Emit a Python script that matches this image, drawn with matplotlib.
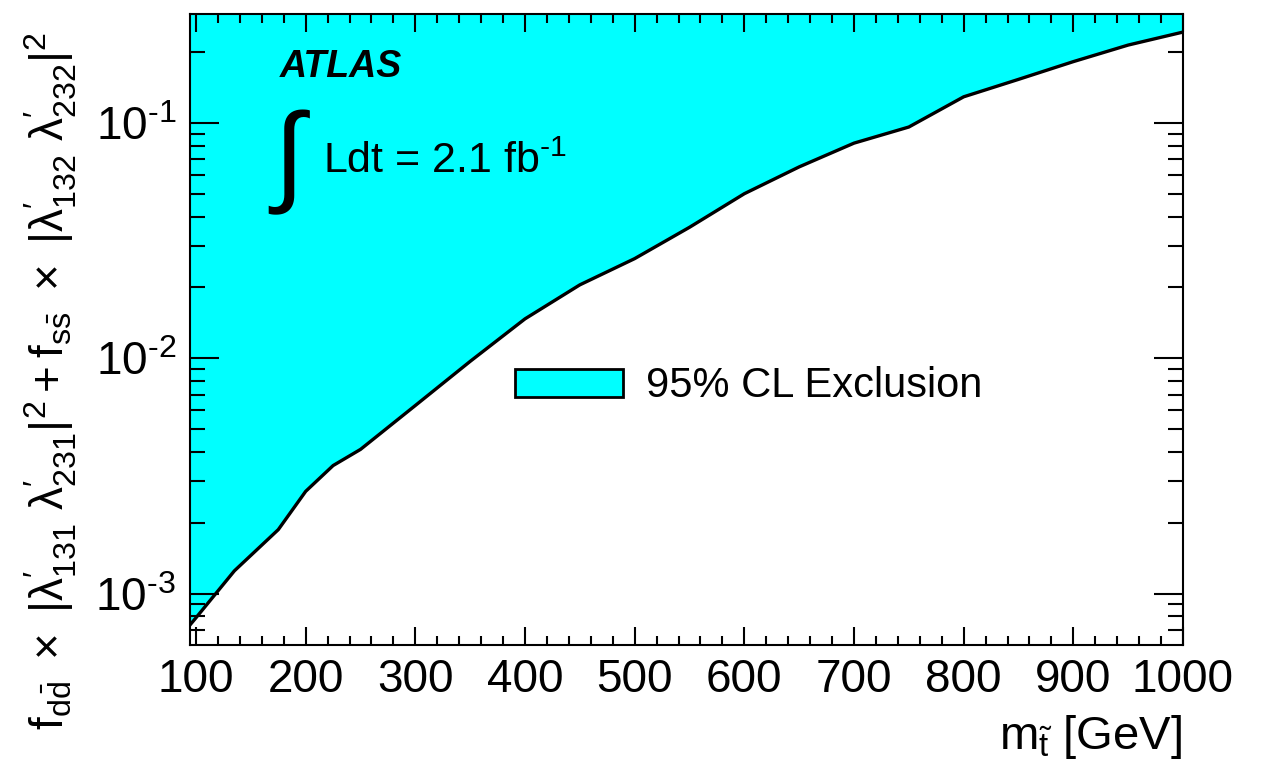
import numpy as np
import matplotlib
matplotlib.use('Agg')
import matplotlib.pyplot as plt
import matplotlib.patches as mpatches
from matplotlib.ticker import MultipleLocator, LogLocator, NullFormatter, FuncFormatter

plt.rcParams['font.family'] = ['Liberation Sans', 'DejaVu Sans']
plt.rcParams['mathtext.fontset'] = 'custom'
plt.rcParams['mathtext.rm'] = 'Liberation Sans'
plt.rcParams['mathtext.it'] = 'Liberation Sans:italic'
plt.rcParams['mathtext.bf'] = 'Liberation Sans:bold'
plt.rcParams['mathtext.default'] = 'regular'
plt.rcParams['axes.unicode_minus'] = False

# stop mass [GeV] and excluded coupling limit
stop_mass = [90, 100, 135, 175, 200, 225, 250, 300, 350, 400, 450, 500,
             550, 600, 650, 700, 750, 800, 850, 900, 950, 1000]
coupling_limit = [6.95e-4, 7.9e-4, 1.25e-3, 1.87e-3, 2.72e-3, 3.5e-3, 4.1e-3,
                  6.3e-3, 9.7e-3, 1.47e-2, 2.05e-2, 2.65e-2, 3.6e-2, 5.0e-2,
                  6.5e-2, 8.2e-2, 9.6e-2, 0.129, 0.153, 0.182, 0.214, 0.243]

legend_label = '95% CL Exclusion'


def log_label(v, pos):
    # 10^-n with a short hyphen like the original
    e = int(round(np.log10(v)))
    if e < 0:
        return '10$^{\u2010%d}$' % (-e)
    return '10$^{%d}$' % e


fig = plt.figure(figsize=(12.71, 7.70), dpi=100)
ax = fig.add_axes([190 / 1271, 1 - 645 / 770, 993 / 1271, 631 / 770])

ax.fill_between(stop_mass, coupling_limit, 10, facecolor='#00ffff', edgecolor='none')
ax.plot(stop_mass, coupling_limit, color='black', lw=2.4)

ax.set_yscale('log')
ax.set_xlim(94.5, 1000)
ax.set_ylim(6.05e-4, 0.29)

ax.xaxis.set_major_locator(MultipleLocator(100))
ax.xaxis.set_minor_locator(MultipleLocator(20))
ax.yaxis.set_major_locator(LogLocator(base=10))
ax.yaxis.set_minor_locator(LogLocator(base=10, subs=np.arange(2, 10)))
ax.yaxis.set_major_formatter(FuncFormatter(log_label))
ax.yaxis.set_minor_formatter(NullFormatter())

ax.tick_params(which='both', direction='in', top=True, right=True, width=1.5,
               labelsize=33)
ax.tick_params(axis='x', which='major', length=13, pad=9)
ax.tick_params(axis='x', which='minor', length=6.5)
ax.tick_params(axis='y', which='major', length=21, pad=10)
ax.tick_params(axis='y', which='minor', length=10.5)
for sp in ax.spines.values():
    sp.set_linewidth(1.5)

# legend
handle = mpatches.Patch(facecolor='#00ffff', edgecolor='black', lw=2)
ax.legend([handle], [legend_label], loc='center left', bbox_to_anchor=(0.327, 0.41),
          frameon=False, fontsize=30, handlelength=2.6, handleheight=0.66,
          handletextpad=0.55, borderpad=0, borderaxespad=0)

# labels
ax.text(0.0906, 0.8997, 'ATLAS', transform=ax.transAxes, fontsize=27,
        fontweight='bold', fontstyle='italic', ha='left', va='baseline')
ax.text(0.079, 0.765, r'$\int$', transform=ax.transAxes, fontsize=80,
        math_fontfamily='stix', ha='left', va='center')
ax.text(0.1339, 0.748, 'Ldt = 2.1 fb$^{\u20101}$', transform=ax.transAxes,
        fontsize=31, ha='left', va='baseline')

fig.text(0.93, 0.027, r'$m_{\tilde{t}}$ [GeV]', fontsize=34, ha='right', va='baseline')
fig.text(0.04, 0.505,
         r'$f_{d\bar{d}}\ \times\ |\lambda^{\prime}_{131}\ \lambda^{\prime}_{231}|^{2}+f_{s\bar{s}}\ \times\ |\lambda^{\prime}_{132}\ \lambda^{\prime}_{232}|^{2}$',
         fontsize=33, rotation=90, ha='center', va='center')

fig.savefig('out.png', dpi=100)
